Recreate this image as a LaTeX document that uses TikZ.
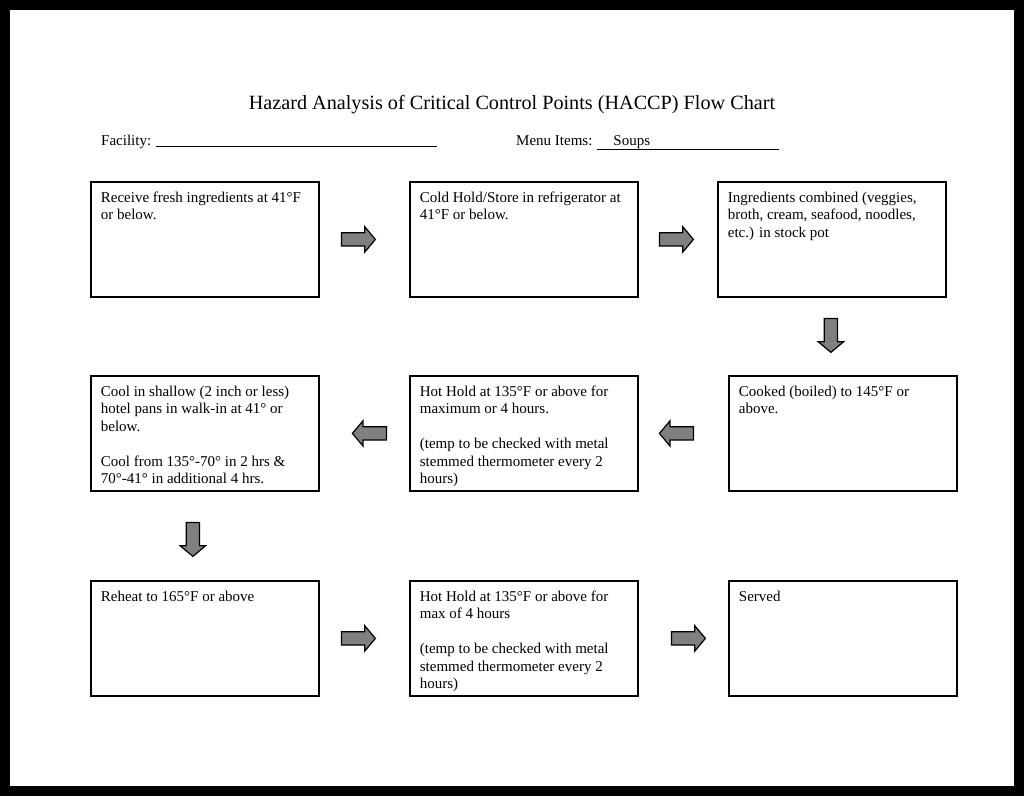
\documentclass[tikz,border=0pt]{standalone}
\usepackage{fontspec}
\setmainfont{Liberation Serif}
\usetikzlibrary{shapes.arrows,calc}
\tikzstyle{stepbox} = [rectangle, draw=black, line width=1.8pt, minimum width=228pt, minimum height=115pt, inner sep=0pt, anchor=north west]
\tikzstyle{flow}    = [single arrow, draw=black, fill=gray, line width=1.2pt, minimum height=34pt, minimum width=24pt, single arrow head extend=6pt, single arrow tip angle=100, inner xsep=0pt, inner ysep=6pt, anchor=tail]
\tikzstyle{head}    = [font=\fontsize{20.2}{24}\selectfont, anchor=base]
\tikzstyle{field}   = [anchor=base west, inner sep=0pt]
\newcommand{\boxtext}[1]{\parbox[c][95pt][t]{208pt}{\raggedright #1}}

\begin{document}
\begin{tikzpicture}
		[
			x=1pt, y=-1pt,
			font=\fontsize{15}{17.5}\selectfont,
		]
		\useasboundingbox (0,0) rectangle (1024,796);
		\draw[line width=10pt] (5,5) rectangle (1019,791);

		% heading
		\node[head] (title) at (512,109) {Hazard Analysis of Critical Control Points (HACCP) Flow Chart};
		\node[field] (facility) at (101,145) {Facility: \rule[-2pt]{281pt}{0.7pt}};
		\node[field] (menu) at (516,145) {Menu Items: \underline{\hspace{16pt}Soups\hspace{129pt}}};

		% steps
		\node[stepbox] (recv) at (90,181) {\boxtext{Receive fresh ingredients at 41°F\\ or below.}};
		\node[stepbox] (store) at (409,181) {\boxtext{Cold Hold/Store in refrigerator at\\ 41°F or below.}};
		\node[stepbox] (comb) at (717,181) {\boxtext{Ingredients combined (veggies,\\ broth, cream, seafood, noodles,\\ etc.) in stock pot}};

		\node[stepbox] (cook) at (728,375) {\boxtext{Cooked (boiled) to 145°F or\\ above.}};
		\node[stepbox] (hold) at (409,375) {\boxtext{Hot Hold at 135°F or above for\\ maximum or 4 hours.\\[17.5pt] (temp to be checked with metal\\ stemmed thermometer every 2\\ hours)}};
		\node[stepbox] (cool) at (90,375) {\boxtext{Cool in shallow (2 inch or less)\\ hotel pans in walk-in at 41° or\\ below.\\[17.5pt] Cool from 135°-70° in 2 hrs \&\\ 70°-41° in additional 4 hrs.}};

		\node[stepbox] (reheat) at (90,580) {\boxtext{Reheat to 165°F or above}};
		\node[stepbox] (hold2) at (409,580) {\boxtext{Hot Hold at 135°F or above for\\ max of 4 hours\\[17.5pt] (temp to be checked with metal\\ stemmed thermometer every 2\\ hours)}};
		\node[stepbox] (serve) at (728,580) {\boxtext{Served}};

		% block arrows between steps, placed by their tails
		\node[flow] (a1) at ($(recv.east) + (21,0)$) {};
		\node[flow] (a2) at ($(store.east) + (20,0)$) {};
		\node[flow, rotate=-90] (a3) at ($(comb.south) + (-1,20)$) {};
		\node[flow, rotate=180] (a4) at ($(hold.west) + (-22,0)$) {};
		\node[flow, rotate=180] (a5) at ($(cook.west) + (-34,0)$) {};
		\node[flow, rotate=-90] (a6) at ($(cool.south) + (-12,30)$) {};
		\node[flow] (a7) at ($(reheat.east) + (21,0)$) {};
		\node[flow] (a8) at ($(hold2.east) + (32,0)$) {};
	\end{tikzpicture}
\end{document}
